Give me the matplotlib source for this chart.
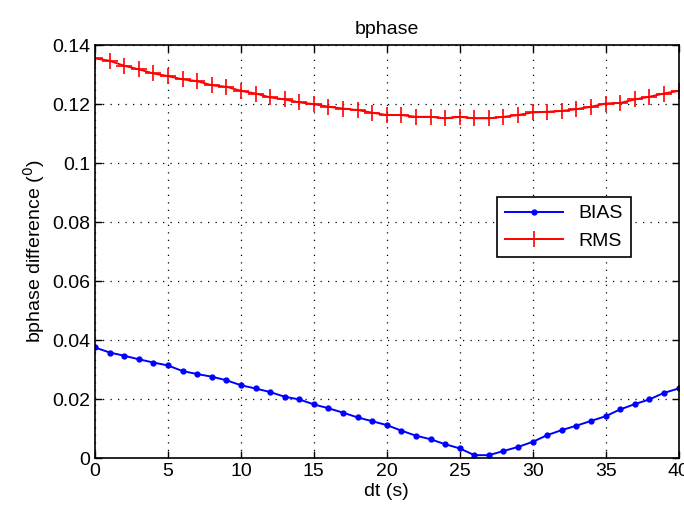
import numpy as np
import matplotlib.pyplot as plt

plt.rcParams['font.family'] = ['Liberation Sans', 'DejaVu Sans']

# data
dt = np.arange(0, 41, 1)
bias = [0.0375, 0.0358, 0.0347, 0.0335, 0.0324, 0.0314, 0.0295, 0.0285, 0.0276, 0.0264,
        0.0247, 0.0236, 0.0224, 0.0208, 0.0199, 0.0182, 0.0169, 0.0154, 0.0138, 0.0125,
        0.0112, 0.0093, 0.0076, 0.0064, 0.0047, 0.0033, 0.0010, 0.0010, 0.0024, 0.0038,
        0.0055, 0.0078, 0.0095, 0.0110, 0.0126, 0.0142, 0.0165, 0.0183, 0.0199, 0.0221,
        0.0236]
rms = [0.1355, 0.1347, 0.1330, 0.1318, 0.1304, 0.1295, 0.1284, 0.1278, 0.1264, 0.1259,
       0.1245, 0.1236, 0.1223, 0.1216, 0.1206, 0.1200, 0.1191, 0.1185, 0.1180, 0.1171,
       0.1163, 0.1163, 0.1157, 0.1157, 0.1152, 0.1157, 0.1152, 0.1152, 0.1157, 0.1163,
       0.1172, 0.1174, 0.1177, 0.1183, 0.1191, 0.1202, 0.1204, 0.1216, 0.1225, 0.1236,
       0.1245]

fig = plt.figure(figsize=(6.84, 5.13), dpi=100)
ax = fig.add_axes([0.139, 0.107, 0.853, 0.805])

ax.plot(dt, bias, color='b', marker='.', markersize=7, linewidth=1.4, label='BIAS')
ax.plot(dt, rms, color='r', marker='+', markersize=11, markeredgewidth=1.2, linewidth=1.4, label='RMS')

ax.set_xlim(0, 40)
ax.set_ylim(0, 0.14)
ax.set_xticks(np.arange(0, 41, 5))
ax.set_yticks(np.arange(0, 0.141, 0.02))
ax.set_yticklabels(['0', '0.02', '0.04', '0.06', '0.08', '0.1', '0.12', '0.14'])
ax.tick_params(direction='in', top=True, right=True, labelsize=14, length=5, width=1)
ax.grid(True, color='k', linestyle=(0, (1, 5)), linewidth=0.9)
for s in ax.spines.values():
    s.set_linewidth(1.2)

ax.set_title('bphase', fontsize=14, pad=8)
ax.set_xlabel('dt (s)', fontsize=14, labelpad=2)
ax.set_ylabel('bphase difference ($^0$)', fontsize=14)

leg = ax.legend(loc='upper right', bbox_to_anchor=(0.935, 0.656), fontsize=14,
                fancybox=False, framealpha=1, edgecolor='k', handlelength=3)
leg.get_frame().set_linewidth(1.2)

fig.savefig('out.png', dpi=100)
